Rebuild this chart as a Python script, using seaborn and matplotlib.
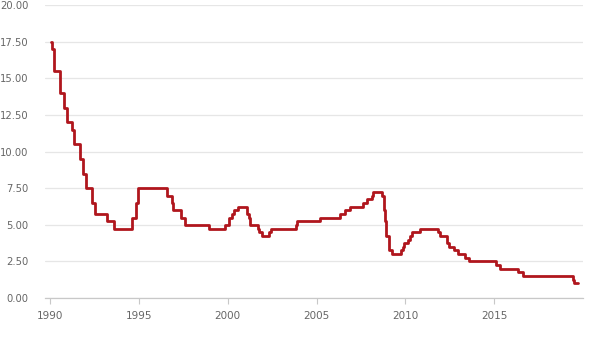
import matplotlib
matplotlib.use('Agg')
import matplotlib.pyplot as plt
import matplotlib.dates as mdates
from matplotlib.ticker import FormatStrFormatter
import pandas as pd
import seaborn as sns

# Cash rate (%) - dates where the rate changed
change_dates = [
    "1990-01-15", "1990-02-15", "1990-03-15", "1990-08-02", "1990-10-15",
    "1990-12-18", "1991-04-04", "1991-05-16", "1991-09-03", "1991-11-06",
    "1992-01-08", "1992-05-06", "1992-07-08", "1993-03-23", "1993-07-30",
    "1994-08-17", "1994-10-24", "1994-12-14", "1996-07-31", "1996-11-06",
    "1996-12-11", "1997-05-23", "1997-07-30", "1998-12-02", "1999-11-03",
    "2000-02-02", "2000-04-05", "2000-05-03", "2000-08-02", "2001-02-07",
    "2001-03-07", "2001-04-04", "2001-09-05", "2001-10-03", "2001-12-05",
    "2002-05-08", "2002-06-05", "2003-11-05", "2003-12-03", "2005-03-02",
    "2006-05-03", "2006-08-02", "2006-11-08", "2007-08-08", "2007-11-07",
    "2008-02-06", "2008-03-05", "2008-09-03", "2008-10-08", "2008-11-05",
    "2008-12-03", "2009-02-04", "2009-04-08", "2009-10-07", "2009-11-04",
    "2009-12-02", "2010-03-03", "2010-04-07", "2010-05-05", "2010-11-03",
    "2011-11-02", "2011-12-07", "2012-05-02", "2012-06-06", "2012-10-03",
    "2012-12-05", "2013-05-08", "2013-08-07", "2015-02-04", "2015-05-06",
    "2016-05-04", "2016-08-03", "2019-06-05", "2019-07-03", "2019-09-15",
]
rates = [
    17.50, 17.00, 15.50, 14.00, 13.00,
    12.00, 11.50, 10.50, 9.50, 8.50,
    7.50, 6.50, 5.75, 5.25, 4.75,
    5.50, 6.50, 7.50, 7.00, 6.50,
    6.00, 5.50, 5.00, 4.75, 5.00,
    5.50, 5.75, 6.00, 6.25, 5.75,
    5.50, 5.00, 4.75, 4.50, 4.25,
    4.50, 4.75, 5.00, 5.25, 5.50,
    5.75, 6.00, 6.25, 6.50, 6.75,
    7.00, 7.25, 7.00, 6.00, 5.25,
    4.25, 3.25, 3.00, 3.25, 3.50,
    3.75, 4.00, 4.25, 4.50, 4.75,
    4.50, 4.25, 3.75, 3.50, 3.25,
    3.00, 2.75, 2.50, 2.25, 2.00,
    1.75, 1.50, 1.25, 1.00, 1.00,
]
x_ticks = [1990, 1995, 2000, 2005, 2010, 2015]
y_ticks = [0, 2.5, 5, 7.5, 10, 12.5, 15, 17.5, 20]

df = pd.DataFrame({'date': pd.to_datetime(change_dates), 'rate': rates})

sns.set_theme(style='white')
plt.rcParams['font.family'] = ['DejaVu Sans']

fig = plt.figure(figsize=(6, 3.38), dpi=100)
ax = fig.add_axes([0.075, 0.118, 0.897, 0.867])

sns.lineplot(data=df, x='date', y='rate', ax=ax, color='#b0161d',
             linewidth=2.0, drawstyle='steps-post', zorder=3)

ax.set_ylim(0, 20)
ax.set_yticks(y_ticks)
ax.yaxis.set_major_formatter(FormatStrFormatter('%.2f'))
ax.set_xlim(pd.Timestamp('1989-09-20'), pd.Timestamp('2020-01-01'))
ax.set_xticks([pd.Timestamp(f'{y}-01-01') for y in x_ticks])
ax.xaxis.set_major_formatter(mdates.DateFormatter('%Y'))

ax.grid(axis='y', color='#e6e6e6', linewidth=0.9)
ax.grid(axis='x', visible=False)
for side in ['left', 'right', 'top']:
    ax.spines[side].set_visible(False)
ax.spines['bottom'].set_color('#c8c8c8')
ax.spines['bottom'].set_linewidth(0.9)

ax.tick_params(axis='y', length=0, pad=12, labelsize=7.2, labelcolor='#666666')
ax.tick_params(axis='x', length=4, width=0.8, color='#c8c8c8', pad=5,
               labelsize=7.5, labelcolor='#666666', bottom=True)
ax.set_xlabel('')
ax.set_ylabel('')

fig.savefig('out.png', dpi=100)
